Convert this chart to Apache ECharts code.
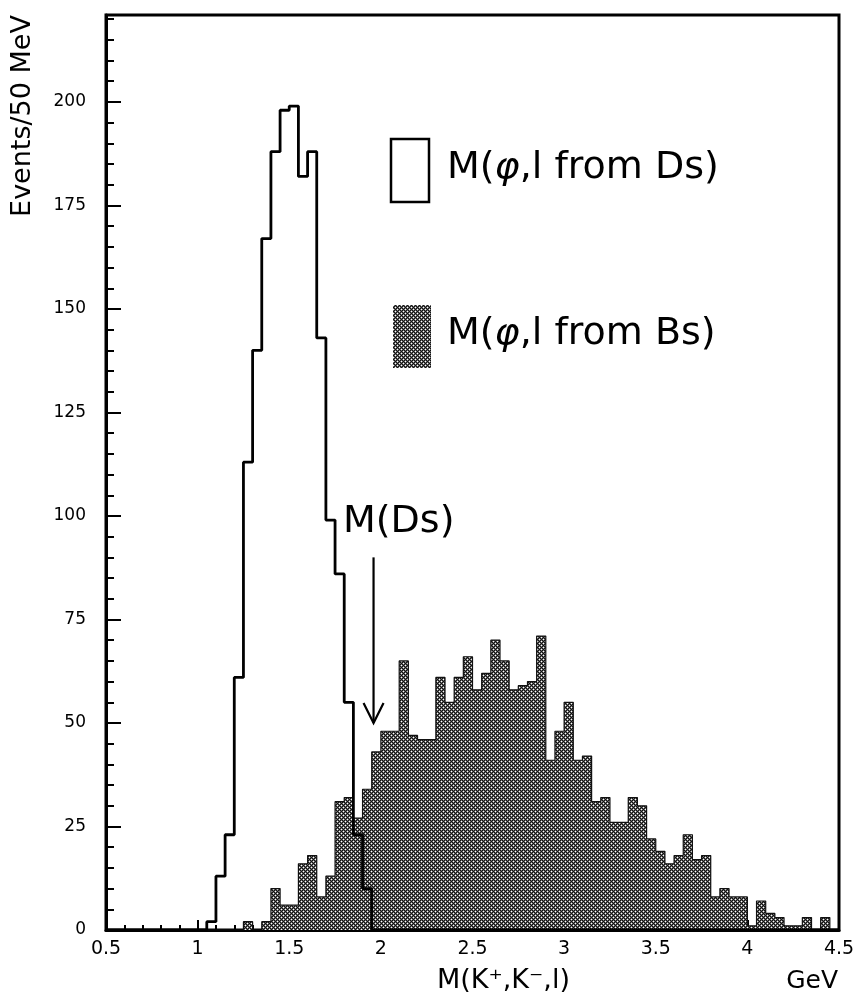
<!DOCTYPE html>
<html>
<head>
<meta charset="utf-8">
<script src="https://cdn.jsdelivr.net/npm/echarts@6/dist/echarts.min.js"></script>
<style>
html,body{margin:0;padding:0;background:#fff;}
#chart{width:860px;height:1004px;}
</style>
</head>
<body>
<div id="chart"></div>
<script>
// ---- data (bins of 50 MeV starting at 0.5 GeV) ----
const binStart = 0.5;
const binWidth = 0.05;
// M(phi,l from Ds) counts per bin
const dsCounts = [
  0,0,0,0,0,0,0,0,0,0,
  0,2,13,23,61,113,140,167,188,198,
  199,182,188,143,99,86,55,23,10,0,
  0,0,0,0,0,0,0,0,0,0,
  0,0,0,0,0,0,0,0,0,0,
  0,0,0,0,0,0,0,0,0,0,
  0,0,0,0,0,0,0,0,0,0,
  0,0,0,0,0,0,0,0,0,0
];
// M(phi,l from Bs) counts per bin
const bsCounts = [
  0,0,0,0,0,0,0,0,0,0,
  0,0,0,0,0,2,0,2,10,6,
  6,16,18,8,13,31,32,27,34,43,
  48,48,65,47,46,46,61,55,61,66,
  58,62,70,65,58,59,60,71,41,48,
  55,41,42,31,32,26,26,32,30,22,
  19,16,18,23,17,18,8,10,8,8,
  1,7,4,3,1,1,3,0,3,0
];
const yTickLabels = [0,25,50,75,100,125,150,175,200];
const xTickLabels = [0.5,1,1.5,2,2.5,3,3.5,4,4.5];
const dsMass = 1.96;      // arrow position M(Ds)
const arrowStart = 90;    // arrow start (events)
const arrowTip = 50;      // arrow tip (events)

function stepData(counts) {
  const pts = counts.map((c, i) => [+(binStart + i * binWidth).toFixed(3), c]);
  pts.push([+(binStart + counts.length * binWidth).toFixed(3), counts[counts.length - 1]]);
  return pts;
}

function makeHatch() {
  const c = document.createElement('canvas');
  c.width = 4; c.height = 4;
  const ctx = c.getContext('2d');
  ctx.fillStyle = '#111'; ctx.fillRect(0, 0, 4, 4);
  ctx.fillStyle = '#6a6a6a';
  [[0,1],[2,1],[1,0],[1,2],[2,3],[3,2],[0,3],[3,0]].forEach(p => ctx.fillRect(p[0], p[1], 1, 1));
  ctx.fillStyle = '#fff';
  [[1,1],[3,3]].forEach(p => ctx.fillRect(p[0], p[1], 1, 1));
  return c;
}
const hatch = { image: makeHatch(), repeat: 'repeat' };
const FONT = 'DejaVu Sans';

const chart = echarts.init(document.getElementById('chart'), null, { renderer: 'canvas' });

const option = {
  backgroundColor: '#fff',
  animation: false,
  grid: {
    left: 106, right: 21, top: 15, bottom: 74,
    show: true, borderColor: '#000', borderWidth: 3, backgroundColor: 'transparent'
  },
  xAxis: {
    type: 'value', min: 0.5, max: 4.5, interval: 0.5,
    axisLine: { show: true, lineStyle: { color: '#000', width: 3 } },
    axisTick: { show: true, inside: true, length: 10, lineStyle: { color: '#000', width: 2 } },
    minorTick: { show: true, splitNumber: 5, length: 5, lineStyle: { color: '#000', width: 2 } },
    splitLine: { show: false },
    axisLabel: {
      show: true, margin: 10, color: '#000', fontFamily: FONT, fontSize: 19,
      showMinLabel: true, showMaxLabel: true,
      formatter: v => {
        const m = xTickLabels.find(t => Math.abs(t - v) < 1e-6);
        return m === undefined ? '' : String(m);
      }
    }
  },
  yAxis: {
    type: 'value', min: 0, max: 221, interval: 25,
    axisLine: { show: true, lineStyle: { color: '#000', width: 3 } },
    axisTick: { show: true, inside: true, length: 15, lineStyle: { color: '#000', width: 2 } },
    minorTick: { show: true, splitNumber: 5, length: 8, lineStyle: { color: '#000', width: 2 } },
    splitLine: { show: false },
    axisLabel: {
      show: true, margin: 20, color: '#000', fontFamily: FONT, fontSize: 17,
      formatter: v => {
        const m = yTickLabels.find(t => Math.abs(t - v) < 1e-6);
        return m === undefined ? '' : String(m);
      }
    }
  },
  series: [
    {
      name: 'M(φ,l from Bs)', type: 'line', step: 'end', symbol: 'none',
      data: stepData(bsCounts),
      lineStyle: { color: '#111', width: 1.2 },
      areaStyle: { color: hatch, opacity: 1 },
      z: 2
    },
    {
      name: 'M(φ,l from Ds)', type: 'line', step: 'end', symbol: 'none',
      data: stepData(dsCounts),
      lineStyle: { color: '#000', width: 2.8 },
      z: 3
    }
  ]
};
chart.setOption(option);

const arrowP0 = chart.convertToPixel({ gridIndex: 0 }, [dsMass, arrowStart]);
const arrowP1 = chart.convertToPixel({ gridIndex: 0 }, [dsMass, arrowTip]);
const bigFont = { fontFamily: FONT, fontSize: 38, fill: '#000' };
const rich = { p: { fontFamily: FONT, fontSize: 38, fontStyle: 'italic', fill: '#000', color: '#000' } };

chart.setOption({
  graphic: [
    { type: 'rect', shape: { x: 391, y: 139, width: 38, height: 63 },
      style: { fill: 'none', stroke: '#000', lineWidth: 2.5 }, z: 10 },
    { type: 'text', x: 447, y: 168,
      style: Object.assign({ text: 'M({p|φ},l from Ds)', rich: rich, verticalAlign: 'middle', align: 'left' }, bigFont), z: 10 },
    { type: 'rect', shape: { x: 393, y: 305, width: 38, height: 63 },
      style: { fill: hatch }, z: 10 },
    { type: 'text', x: 447, y: 334,
      style: Object.assign({ text: 'M({p|φ},l from Bs)', rich: rich, verticalAlign: 'middle', align: 'left' }, bigFont), z: 10 },
    { type: 'text', x: 343, y: 522,
      style: Object.assign({ text: 'M(Ds)', verticalAlign: 'middle', align: 'left' }, bigFont), z: 10 },
    { type: 'polyline', shape: { points: [arrowP0, arrowP1] },
      style: { stroke: '#000', lineWidth: 2.2, fill: null }, z: 10 },
    { type: 'polyline', shape: { points: [[arrowP1[0] - 10, arrowP1[1] - 20], arrowP1, [arrowP1[0] + 10, arrowP1[1] - 20]] },
      style: { stroke: '#000', lineWidth: 2.2, fill: null }, z: 10 },
    { type: 'text', x: 23, y: 116, rotation: Math.PI / 2,
      style: { text: 'Events/50 MeV', fontFamily: FONT, fontSize: 27, fill: '#000', align: 'center', verticalAlign: 'middle' }, z: 10 },
    { type: 'text', x: 437, y: 981,
      style: { text: 'M(K⁺,K⁻,l)', fontFamily: FONT, fontSize: 27, fill: '#000', align: 'left', verticalAlign: 'middle' }, z: 10 },
    { type: 'text', x: 838, y: 981,
      style: { text: 'GeV', fontFamily: FONT, fontSize: 25, fill: '#000', align: 'right', verticalAlign: 'middle' }, z: 10 }
  ]
});
</script>
</body>
</html>
